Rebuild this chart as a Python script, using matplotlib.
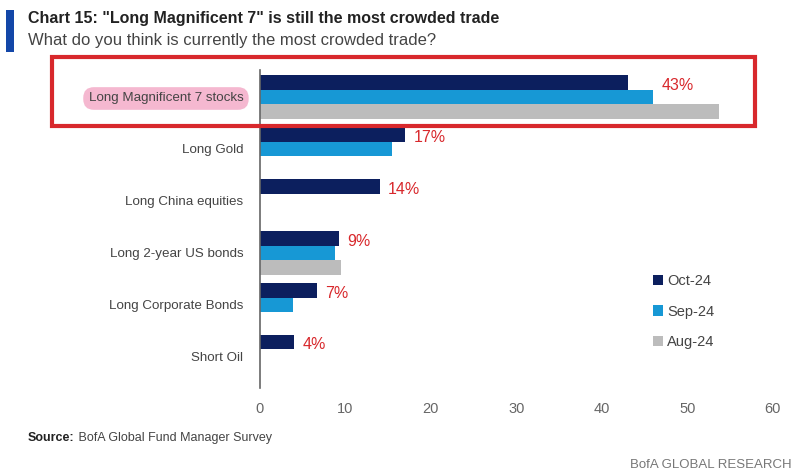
import matplotlib
matplotlib.use("Agg")
import matplotlib.pyplot as plt
import numpy as np
from matplotlib.patches import Rectangle

categories = ["Long Magnificent 7 stocks", "Long Gold", "Long China equities",
              "Long 2-year US bonds", "Long Corporate Bonds", "Short Oil"]
oct24 = [43, 17, 14, 9.2, 6.7, 4]
sep24 = [46, 15.5, 0, 8.8, 3.9, 0]
aug24 = [53.7, 0, 0, 9.5, 0, 0]
labels = ["43%", "17%", "14%", "9%", "7%", "4%"]
series_names = ["Oct-24", "Sep-24", "Aug-24"]
xticks = [0, 10, 20, 30, 40, 50, 60]

plt.rcParams["font.family"] = ["Liberation Sans", "DejaVu Sans"]

c_oct = "#0c1f5e"
c_sep = "#1798d5"
c_aug = "#bcbcbc"
c_red = "#d8282c"

fig = plt.figure(figsize=(8, 4.76), dpi=100)
ax = fig.add_axes([0.325, 0.185, 0.641, 0.668])

y = np.arange(len(categories))
h = 0.28
for vals, off, col, name in [(oct24, -h, c_oct, series_names[0]),
                             (sep24, 0, c_sep, series_names[1]),
                             (aug24, h, c_aug, series_names[2])]:
    v = np.array(vals, dtype=float)
    ax.barh(y + off, v, height=h, color=col, label=name, zorder=2)

for i, lab in enumerate(labels):
    xpos = max(oct24[i], sep24[i])
    ax.annotate(lab, (xpos, y[i] - h), xytext=(6, -2), textcoords="offset points",
                va="center", ha="left", color=c_red, fontsize=11.5)

ax.set_xlim(0, 60)
ax.set_ylim(5.6, -0.52)
ax.set_xticks(xticks)
ax.set_xticklabels([str(t) for t in xticks])
ax.set_yticks(y)
ax.set_yticklabels(categories)
ax.tick_params(axis="x", length=0, labelsize=10.5, colors="#666666", pad=10)
ax.tick_params(axis="y", length=0, labelsize=9.6, colors="#444444", pad=12)
for s in ["top", "right", "bottom"]:
    ax.spines[s].set_visible(False)
ax.spines["left"].set_color("#666666")
ax.spines["left"].set_linewidth(1.2)

ax.get_yticklabels()[0].set_bbox(dict(boxstyle="round,pad=0.4,rounding_size=0.8",
                                      facecolor="#f5b8d0", edgecolor="none"))

leg = ax.legend(loc="upper left", bbox_to_anchor=(0.74, 0.40), frameon=False,
                fontsize=10.5, handlelength=0.7, handleheight=0.7, handletextpad=0.3,
                labelspacing=1.15, labelcolor="#444444")

fig.patches.append(Rectangle((52 / 800, 1 - 126 / 476), (755 - 52) / 800, (126 - 57) / 476,
                             transform=fig.transFigure, fill=False, edgecolor=c_red,
                             linewidth=3, zorder=10))
fig.patches.append(Rectangle((6 / 800, 1 - 52 / 476), 8 / 800, 42 / 476,
                             transform=fig.transFigure, facecolor="#1347a8",
                             edgecolor="none"))

fig.text(28 / 800, 1 - 19 / 476, 'Chart 15: "Long Magnificent 7" is still the most crowded trade',
         fontsize=11.5, fontweight="bold", color="#222222", va="center")
fig.text(28 / 800, 1 - 40 / 476, "What do you think is currently the most crowded trade?",
         fontsize=12, color="#444444", va="center")
src = fig.text(28 / 800, 1 - 438 / 476, "Source:", fontsize=9, fontweight="bold",
               color="#222222", va="center")
fig.canvas.draw()
ax.annotate(" BofA Global Fund Manager Survey", xy=(1, 0.5), xycoords=src,
            va="center", ha="left", fontsize=9, color="#444444", annotation_clip=False)
fig.text(792 / 800, 1 - 465 / 476, "BofA GLOBAL RESEARCH", fontsize=9.5,
         color="#777777", va="center", ha="right")

fig.savefig("out.png", dpi=100)
